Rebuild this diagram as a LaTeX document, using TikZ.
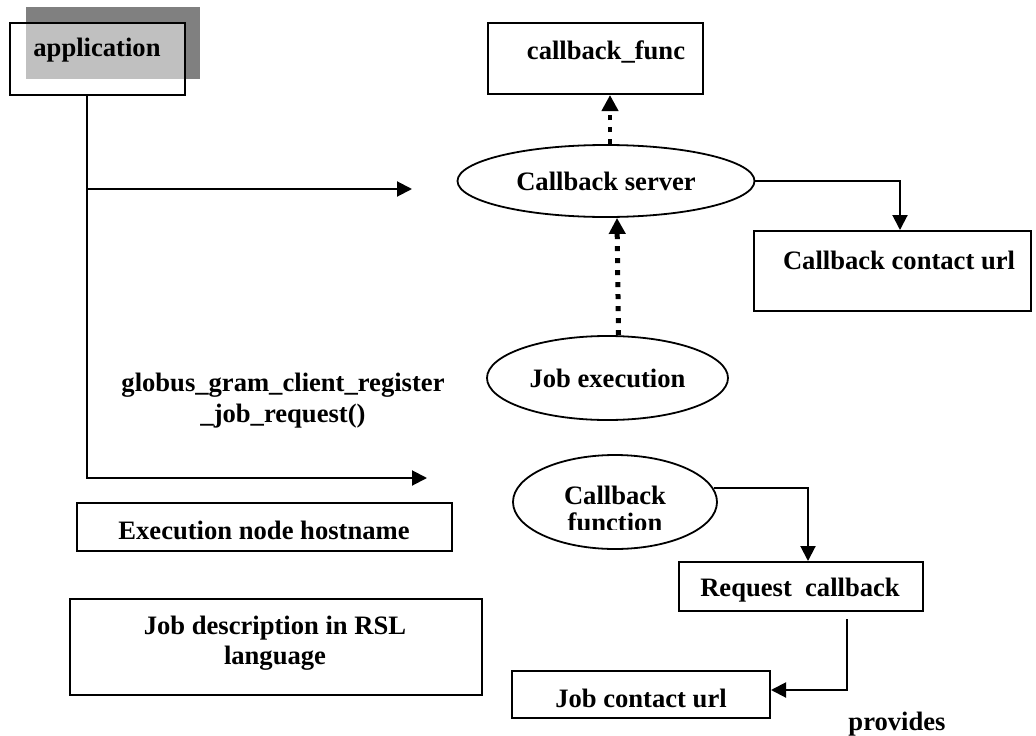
\documentclass[tikz,border=0pt]{standalone}
\usepackage{fontspec}
\setmainfont{Liberation Serif}
\usetikzlibrary{arrows.meta,shapes.geometric}

\definecolor{shadowgray}{HTML}{808080}
\definecolor{litegray}{HTML}{C0C0C0}

\begin{document}
\begin{tikzpicture}[x=1pt,y=-1pt,
    font=\bfseries\fontsize{26.6}{31}\selectfont,
    box/.style={draw,line width=2pt,inner sep=0pt},
    oval/.style={draw,ellipse,line width=1.8pt,inner sep=0pt},
    lbl/.style={inner sep=0pt,align=center},
    arr/.style={line width=2pt,->},
    dotarr/.style={line width=#1,dash pattern=on 5pt off 7pt,-{Triangle[length=16pt,width=16pt]}}]
\useasboundingbox (0,0) rectangle (1036,736);
\begin{scope}[>={Triangle[length=15pt,width=15pt]}]

    \fill[shadowgray] (26,7) rectangle (200,79);
    \fill[litegray] (26,23) rectangle (185,79);
    \node[box,minimum width=175pt,minimum height=72pt] (app) at (97.5,59) {};
    \node[lbl] (applbl) at (97,50) {application};

    \node[box,minimum width=215pt,minimum height=71pt] (func) at (595.5,58.5) {};
    \node[lbl] (funclbl) at (606,52) {callback\_func};

    \node[oval,minimum width=297pt,minimum height=72pt] (srv) at (606,181) {Callback server};
    \node[box,minimum width=277pt,minimum height=80pt] (ccu) at (892.5,271) {};
    \node[lbl] (cculbl) at (899,260) {Callback contact url};

    \node[oval,minimum width=241pt,minimum height=84pt] (jobex) at (607.5,378) {Job execution};
    \node[lbl] (reglbl) at (283,401) {globus\_gram\_client\_register\\\_job\_request()};

    \node[oval,minimum width=204pt,minimum height=94pt] (cbf) at (615,502) {};
    \begin{scope}
        \clip (500,450) rectangle (730,529);
        \node[lbl,font=\bfseries\fontsize{26.6}{27}\selectfont] (cbflbl) at (615,509) {Callback\\function};
    \end{scope}

    \node[box,minimum width=244pt,minimum height=49pt] (reqcb) at (801,586.5) {};
    \node[lbl] (reqcblbl) at (800,590) {Request\ \ callback};

    \node[box,minimum width=375pt,minimum height=48pt] (exnode) at (264.5,527) {};
    \node[lbl] (exnodelbl) at (264,530) {Execution node hostname};

    \node[box,minimum width=412pt,minimum height=96pt] (rsl) at (276,647) {};
    \node[lbl,font=\bfseries\fontsize{26.6}{30}\selectfont] (rsllbl) at (275,643) {Job description in RSL\\language};

    \node[box,minimum width=258pt,minimum height=47pt] (jcu) at (641,694.5) {};
    \node[lbl] (jculbl) at (641,698) {Job contact url};
    \node[lbl] (provlbl) at (897,724) {provides};

    \coordinate (trunk) at (87,95);
    \coordinate (reqtip) at (412,189);
    \coordinate (regtip) at (427,478);
    \coordinate (srvtop) at ([xshift=4pt]srv.north);
    \draw[arr] (trunk) |- (regtip);
    \draw[arr] (trunk |- reqtip) -- (reqtip);

    \draw[dotarr=4pt] (srvtop) -- (srvtop |- func.south);
    \draw[dotarr=5pt] ([xshift=11pt]jobex.north) -- ([xshift=11pt]srv.south);

    \draw[arr] (srv.east) -| ([xshift=7.5pt]ccu.north);
    \draw[arr] (cbf.8) -| ([xshift=7pt]reqcb.north);
    \draw[arr] ([xshift=46pt,yshift=-7pt]reqcb.south) |- ([yshift=4.5pt]jcu.east);
\end{scope}
\end{tikzpicture}
\end{document}
